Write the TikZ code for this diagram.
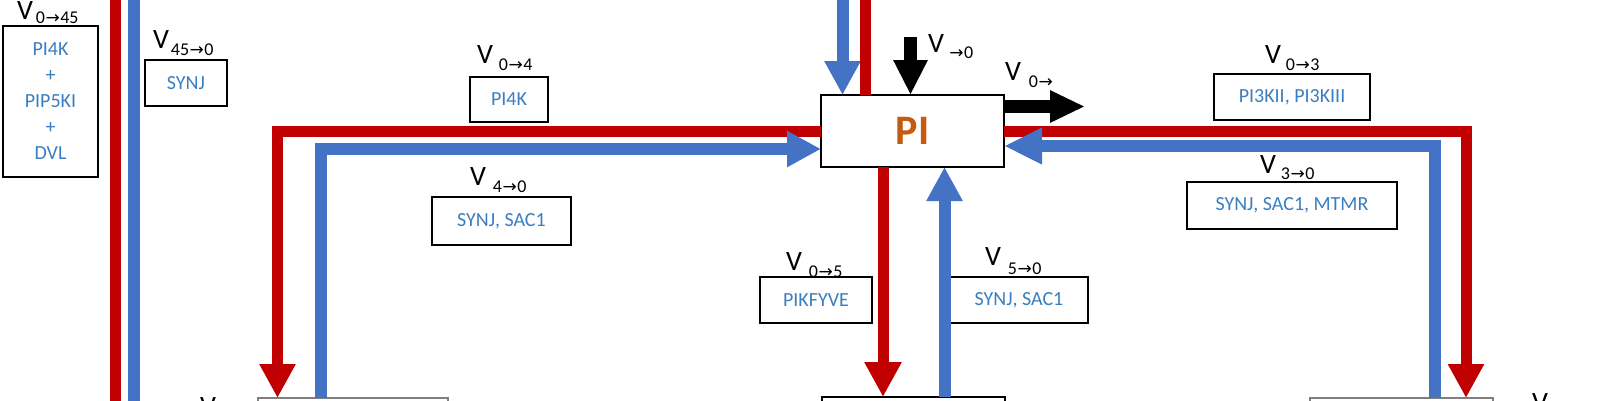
\documentclass[tikz,border=0pt]{standalone}
\usepackage{fontspec}
\setmainfont{Carlito}
\newfontfamily\arrfont{DejaVu Sans}
\usetikzlibrary{arrows.meta}
\definecolor{fred}{HTML}{C00000}
\definecolor{fblue}{HTML}{4472C4}
\definecolor{tblue}{HTML}{3A7EC2}
\definecolor{piorange}{HTML}{C55A11}
\definecolor{bgray}{HTML}{7F7F7F}
\newcommand{\Vlab}[3]{\fontsize{28}{28}\selectfont V\hspace{#1pt}\raisebox{-#2pt}{\fontsize{18}{18}\selectfont #3}}
\newcommand{\ar}{{\arrfont\fontsize{17}{17}\selectfont\kern0.5pt→\kern0.5pt}}
\begin{document}
\begin{tikzpicture}[x=1pt,y=-1pt,
  box/.style={draw=black, line width=2pt, fill=white, inner sep=0pt, outer sep=0pt,
    text=tblue, font=\fontsize{20}{26}\selectfont, align=center},
  vlab/.style={anchor=base west, inner sep=0pt, outer sep=0pt},
  redline/.style={draw=fred, line width=11pt},
  blueline/.style={draw=fblue, line width=12pt},
  blackline/.style={draw=black, line width=13pt},
  tipA/.style={-{Triangle[length=34pt,width=34pt]}},
  tipK/.style={-{Triangle[length=35pt,width=32pt]}}]
\clip (0,0) rectangle (1600,400);
\fill[white] (0,0) rectangle (1600,400);

% boxes
\node[box, minimum width=95pt, minimum height=151pt] (b45) at (50.5,101.5) {PI4K\\+\\PIP5KI\\+\\DVL};
\node[box, minimum width=82pt, minimum height=46pt] (s45) at (186,83) {SYNJ};
\node[box, minimum width=78pt, minimum height=45pt] (b04) at (509,99.5) {PI4K};
\node[box, minimum width=139pt, minimum height=48pt] (b40) at (501.5,221) {SYNJ, SAC1};
\node[box, minimum width=112pt, minimum height=46pt] (b05) at (816,300) {PIKFYVE};
\node[box, minimum width=138pt, minimum height=46pt] (b50) at (1019,300) {SYNJ, SAC1};
\node[box, minimum width=156pt, minimum height=46pt] (b03) at (1292,97) {PI3KII, PI3KIII};
\node[box, minimum width=210pt, minimum height=47pt] (b30) at (1292,205.5) {SYNJ, SAC1, MTMR};
\node[box, line width=2.5pt, minimum width=183pt, minimum height=72pt, text=piorange,
  font=\fontsize{42}{42}\selectfont\bfseries] (PI) at (912.5,131) {PI};
\node[box, draw=bgray, minimum width=190pt, minimum height=64pt] (botL) at (353,430) {};
\node[box, line width=2.5pt, minimum width=183pt, minimum height=64pt] (botC) at (913.5,429) {};
\node[box, draw=bgray, minimum width=183pt, minimum height=64pt] (botR) at (1401.5,430) {};

% labels
\node[vlab] (v045) at (17,19) {\Vlab{3}{4}{0\ar45}};
\node[vlab] (v450) at (153,48) {\Vlab{2}{7}{45\ar0}};
\node[vlab] (v04) at (477,63) {\Vlab{6}{7}{0\ar4}};
\node[vlab] (v40) at (470,185) {\Vlab{7}{7}{4\ar0}};
\node[vlab] (v05) at (786,270) {\Vlab{7}{7}{0\ar5}};
\node[vlab] (v50) at (985,265) {\Vlab{7}{9}{5\ar0}};
\node[vlab] (vin) at (928,52) {\Vlab{5}{6}{\ar0}};
\node[vlab] (vout) at (1005,80) {\Vlab{8}{7}{0\ar}};
\node[vlab] (v03) at (1265,63) {\Vlab{5}{7}{0\ar3}};
\node[vlab] (v30) at (1260,173) {\Vlab{5}{6}{3\ar0}};
\node[vlab] (vbl) at (200,415) {\fontsize{28}{28}\selectfont V};
\node[vlab] (vbr) at (1532,411) {\fontsize{28}{28}\selectfont V};

% coordinates
\coordinate (lvR1) at (115.5,-10);
\coordinate (lvR2) at (115.5,410);
\coordinate (lvB1) at (134,-10);
\coordinate (lvB2) at (134,410);
\coordinate (cL1) at (277.5,131);
\coordinate (cL2) at (321,149);
\coordinate (tB) at (842.5,-10);
\coordinate (tR) at (865.5,-10);
\coordinate (kD) at (910.5,37);
\coordinate (kR) at (1085,106.5);
\coordinate (cR1) at (1466,131);
\coordinate (cR2) at (1434.5,146);
\coordinate (dR) at (883,0);
\coordinate (dB) at (944.5,0);

% left verticals
\draw[redline] (lvR1) -- (lvR2);
\draw[blueline] (lvB1) -- (lvB2);

% left L paths
\draw[redline, tipA] (PI.west) -- (cL1) -- (cL1 |- botL.north);
\draw[blueline, tipA] (cL2 |- botL.north) -- (cL2) -- (cL2 -| PI.west);

% top
\draw[blueline, tipA] (tB) -- (tB |- PI.north);
\draw[redline] (tR |- PI.north) -- (tR);
\draw[blackline, tipK] (kD) -- (kD |- PI.north);
\draw[blackline, -{Triangle[length=35pt,width=30pt]}] (kR -| PI.east) -- (kR);

% right L paths
\draw[redline, tipA] (PI.east) -- (cR1) -- (cR1 |- botR.north);
\draw[blueline, -{Triangle[length=38pt,width=34pt]}] (cR2 |- botR.north) -- (cR2) -- (cR2 -| PI.east);

% bottom of PI
\draw[redline, -{Triangle[length=35pt,width=35pt]}] (dR |- PI.south) -- (dR |- botC.north);
\draw[blueline, tipA] (dB |- botC.north) -- (dB |- PI.south);
\end{tikzpicture}
\end{document}
